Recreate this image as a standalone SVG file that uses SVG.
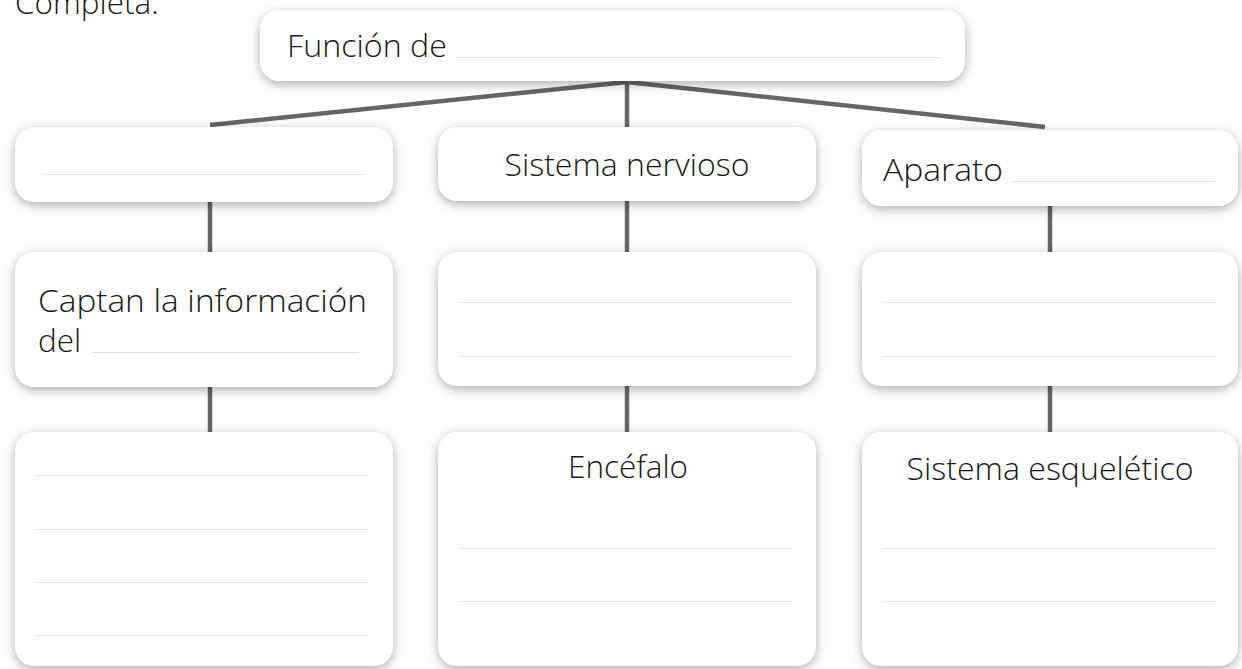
<svg xmlns="http://www.w3.org/2000/svg" width="1242" height="669" viewBox="0 0 1242 669">
  <defs>
    <filter id="shadow" x="-10%" y="-20%" width="120%" height="140%">
      <feDropShadow dx="0" dy="3" stdDeviation="5.5" flood-color="#000" flood-opacity="0.33"/>
    </filter>
  </defs>
  <style>
    .box { fill: #ffffff; filter: url(#shadow); }
    .lbl { font-family: "Open Sans", "Noto Sans", sans-serif; font-size: 31.5px; font-weight: 300; fill: #1a1a1a; }
    .blank { stroke: #e0e0e0; stroke-width: 1; fill: none; }
    .conn { stroke: #666666; stroke-width: 4.5; fill: none; stroke-linecap: butt; }
  </style>
  <rect width="1242" height="669" fill="#ffffff"/>
  <text class="lbl" x="15" y="14" fill="#333">Completa.</text>

  <g id="connectors">
    <line class="conn" x1="627" y1="82" x2="210" y2="125"/>
    <line class="conn" x1="627" y1="82" x2="1045" y2="127"/>
    <line class="conn" x1="627" y1="80" x2="627" y2="127"/>
    <line class="conn" x1="210" y1="200" x2="210" y2="252"/>
    <line class="conn" x1="210" y1="385" x2="210" y2="432"/>
    <line class="conn" x1="627" y1="200" x2="627" y2="252"/>
    <line class="conn" x1="627" y1="385" x2="627" y2="432"/>
    <line class="conn" x1="1050" y1="205" x2="1050" y2="252"/>
    <line class="conn" x1="1050" y1="385" x2="1050" y2="432"/>
  </g>

  <g id="node-top">
    <rect class="box" x="260" y="10" width="705" height="71" rx="20"/>
    <text class="lbl" x="287" y="57" textLength="160" lengthAdjust="spacingAndGlyphs">Función de</text>
    <line class="blank" x1="455" y1="57.5" x2="940" y2="57.5"/>
  </g>

  <g id="node-r1-left">
    <rect class="box" x="15" y="127" width="378" height="75" rx="20"/>
    <line class="blank" x1="43" y1="174.5" x2="363" y2="174.5"/>
  </g>
  <g id="node-r1-mid">
    <rect class="box" x="438" y="127" width="378" height="74" rx="20"/>
    <text class="lbl" x="627" y="176" text-anchor="middle" textLength="245" lengthAdjust="spacingAndGlyphs">Sistema nervioso</text>
  </g>
  <g id="node-r1-right">
    <rect class="box" x="862" y="130" width="376" height="76" rx="20"/>
    <text class="lbl" x="883" y="181" textLength="120" lengthAdjust="spacingAndGlyphs">Aparato</text>
    <line class="blank" x1="1013" y1="181.5" x2="1215" y2="181.5"/>
  </g>

  <g id="node-r2-left">
    <rect class="box" x="15" y="252" width="378" height="135" rx="20"/>
    <text class="lbl" x="38" y="312" textLength="329" lengthAdjust="spacingAndGlyphs">Captan la información</text>
    <text class="lbl" x="38" y="352">del</text>
    <line class="blank" x1="92" y1="352.5" x2="359" y2="352.5"/>
  </g>
  <g id="node-r2-mid">
    <rect class="box" x="438" y="252" width="378" height="134" rx="20"/>
    <line class="blank" x1="461" y1="302.5" x2="792" y2="302.5"/>
    <line class="blank" x1="461" y1="356.5" x2="792" y2="356.5"/>
  </g>
  <g id="node-r2-right">
    <rect class="box" x="862" y="252" width="376" height="134" rx="20"/>
    <line class="blank" x1="883" y1="302.5" x2="1215" y2="302.5"/>
    <line class="blank" x1="883" y1="356.5" x2="1215" y2="356.5"/>
  </g>

  <g id="node-r3-left">
    <rect class="box" x="15" y="432" width="378" height="234" rx="20"/>
    <line class="blank" x1="37" y1="475.5" x2="369" y2="475.5"/>
    <line class="blank" x1="37" y1="529.5" x2="369" y2="529.5"/>
    <line class="blank" x1="37" y1="582.5" x2="369" y2="582.5"/>
    <line class="blank" x1="37" y1="635.5" x2="369" y2="635.5"/>
  </g>
  <g id="node-r3-mid">
    <rect class="box" x="438" y="432" width="378" height="234" rx="20"/>
    <text class="lbl" x="628" y="478" text-anchor="middle" textLength="120" lengthAdjust="spacingAndGlyphs">Encéfalo</text>
    <line class="blank" x1="461" y1="548.5" x2="792" y2="548.5"/>
    <line class="blank" x1="461" y1="601.5" x2="792" y2="601.5"/>
  </g>
  <g id="node-r3-right">
    <rect class="box" x="862" y="432" width="376" height="234" rx="20"/>
    <text class="lbl" x="1050" y="480" text-anchor="middle" textLength="287" lengthAdjust="spacingAndGlyphs">Sistema esquelético</text>
    <line class="blank" x1="883" y1="548.5" x2="1215" y2="548.5"/>
    <line class="blank" x1="883" y1="601.5" x2="1215" y2="601.5"/>
  </g>
</svg>
